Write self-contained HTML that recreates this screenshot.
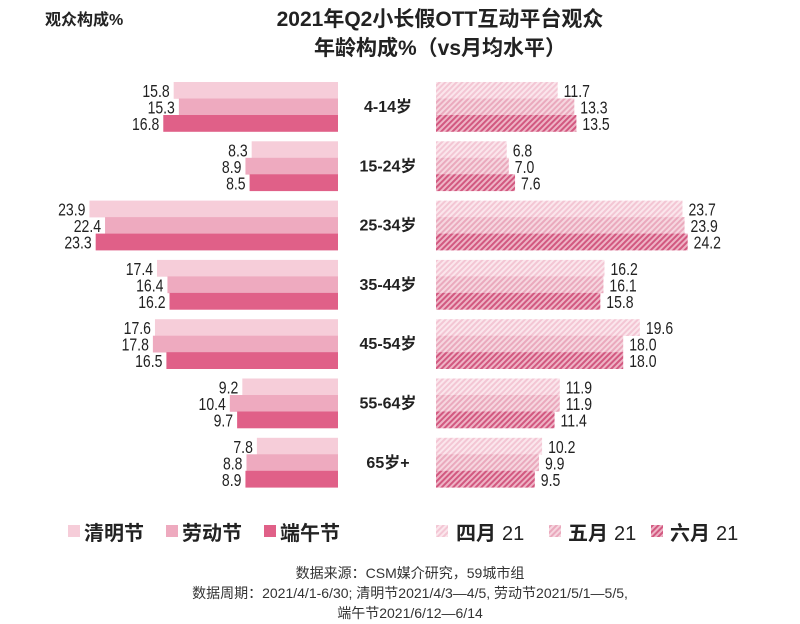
<!DOCTYPE html>
<html><head><meta charset="utf-8"><style>
html,body{margin:0;padding:0;background:#fff;}
svg{display:block;font-family:"Liberation Sans","Noto Sans CJK SC",sans-serif;}
.cj{font-family:"Liberation Sans","Noto Sans CJK SC",sans-serif;}
</style></head><body>
<svg width="800" height="624" viewBox="0 0 800 624" xmlns="http://www.w3.org/2000/svg">
<defs>
<pattern id="h1" width="4" height="4" patternUnits="userSpaceOnUse" patternTransform="rotate(45)"><rect width="4" height="4" fill="#fbe6ec"/><rect width="2" height="4" fill="#f3c6d4"/></pattern>
<pattern id="h2" width="4" height="4" patternUnits="userSpaceOnUse" patternTransform="rotate(45)"><rect width="4" height="4" fill="#f6d6df"/><rect width="2" height="4" fill="#eaa9bd"/></pattern>
<pattern id="h3" width="4" height="4" patternUnits="userSpaceOnUse" patternTransform="rotate(45)"><rect width="4" height="4" fill="#eeb3c5"/><rect width="2" height="4" fill="#d25880"/></pattern>
</defs>
<text x="45" y="25" class="cj" font-size="16" font-weight="bold" fill="#222">观众构成%</text>
<text x="440" y="26" class="cj" font-size="21" font-weight="bold" fill="#222" text-anchor="middle">2021年Q2小长假OTT互动平台观众</text>
<text x="440" y="55" class="cj" font-size="21" font-weight="bold" fill="#222" text-anchor="middle">年龄构成%（vs月均水平）</text>
<g id="bars"></g>
<g class="cj" font-size="20" font-weight="bold" fill="#222">
<rect x="68" y="525" width="12" height="12" fill="#f6cdd9"/><text x="84" y="540">清明节</text>
<rect x="166" y="525" width="12" height="12" fill="#eeaabf"/><text x="182" y="540">劳动节</text>
<rect x="264" y="525" width="12" height="12" fill="#e06088"/><text x="280" y="540">端午节</text>
<rect x="436" y="525" width="12" height="12" fill="url(#h1)"/><text x="456" y="540">四月</text><text x="502" y="540" font-weight="normal">21</text>
<rect x="549" y="525" width="12" height="12" fill="url(#h2)"/><text x="568" y="540">五月</text><text x="614" y="540" font-weight="normal">21</text>
<rect x="651" y="525" width="12" height="12" fill="url(#h3)"/><text x="670" y="540">六月</text><text x="716" y="540" font-weight="normal">21</text>
</g>
<g class="cj" font-size="14" fill="#333" text-anchor="middle">
<text x="410" y="578">数据来源：CSM媒介研究，59城市组</text>
<text x="410" y="598">数据周期：2021/4/1-6/30; 清明节2021/4/3—4/5, 劳动节2021/5/1—5/5,</text>
<text x="410" y="618">端午节2021/6/12—6/14</text>
</g>
</svg>
<script>
var L=[[15.8,15.3,16.8],[8.3,8.9,8.5],[23.9,22.4,23.3],[17.4,16.4,16.2],[17.6,17.8,16.5],[9.2,10.4,9.7],[7.8,8.8,8.9]];
var R=[[11.7,13.3,13.5],[6.8,7.0,7.6],[23.7,23.9,24.2],[16.2,16.1,15.8],[19.6,18.0,18.0],[11.9,11.9,11.4],[10.2,9.9,9.5]];
var labs=["4-14岁","15-24岁","25-34岁","35-44岁","45-54岁","55-64岁","65岁+"];
var cols=["#f6cdd9","#eeaabf","#e06088"],hp=["url(#h1)","url(#h2)","url(#h3)"];
var s="",k=10.4,bh=16.5,sc=0.78;
for(var i=0;i<7;i++){var y0=82+i*59.3;
for(var j=0;j<3;j++){var y=y0+j*bh,w=L[i][j]*k,w2=R[i][j]*k;
s+='<rect x="'+(338-w)+'" y="'+y+'" width="'+w+'" height="'+(bh+0.3)+'" fill="'+cols[j]+'"/>';
s+='<text transform="scale('+sc+',1)" x="'+((334-w)/sc)+'" y="'+(y+15)+'" font-size="18" fill="#222" text-anchor="end">'+L[i][j].toFixed(1)+'</text>';
s+='<rect x="436" y="'+y+'" width="'+w2+'" height="'+(bh+0.3)+'" fill="'+hp[j]+'"/>';
s+='<text transform="scale('+sc+',1)" x="'+((442+w2)/sc)+'" y="'+(y+15)+'" font-size="18" fill="#222">'+R[i][j].toFixed(1)+'</text>';}
s+='<text x="388" y="'+(y0+30)+'" class="cj" font-size="16" font-weight="bold" fill="#222" text-anchor="middle">'+labs[i]+'</text>';}
document.getElementById("bars").innerHTML=s;
</script>
</body></html>
